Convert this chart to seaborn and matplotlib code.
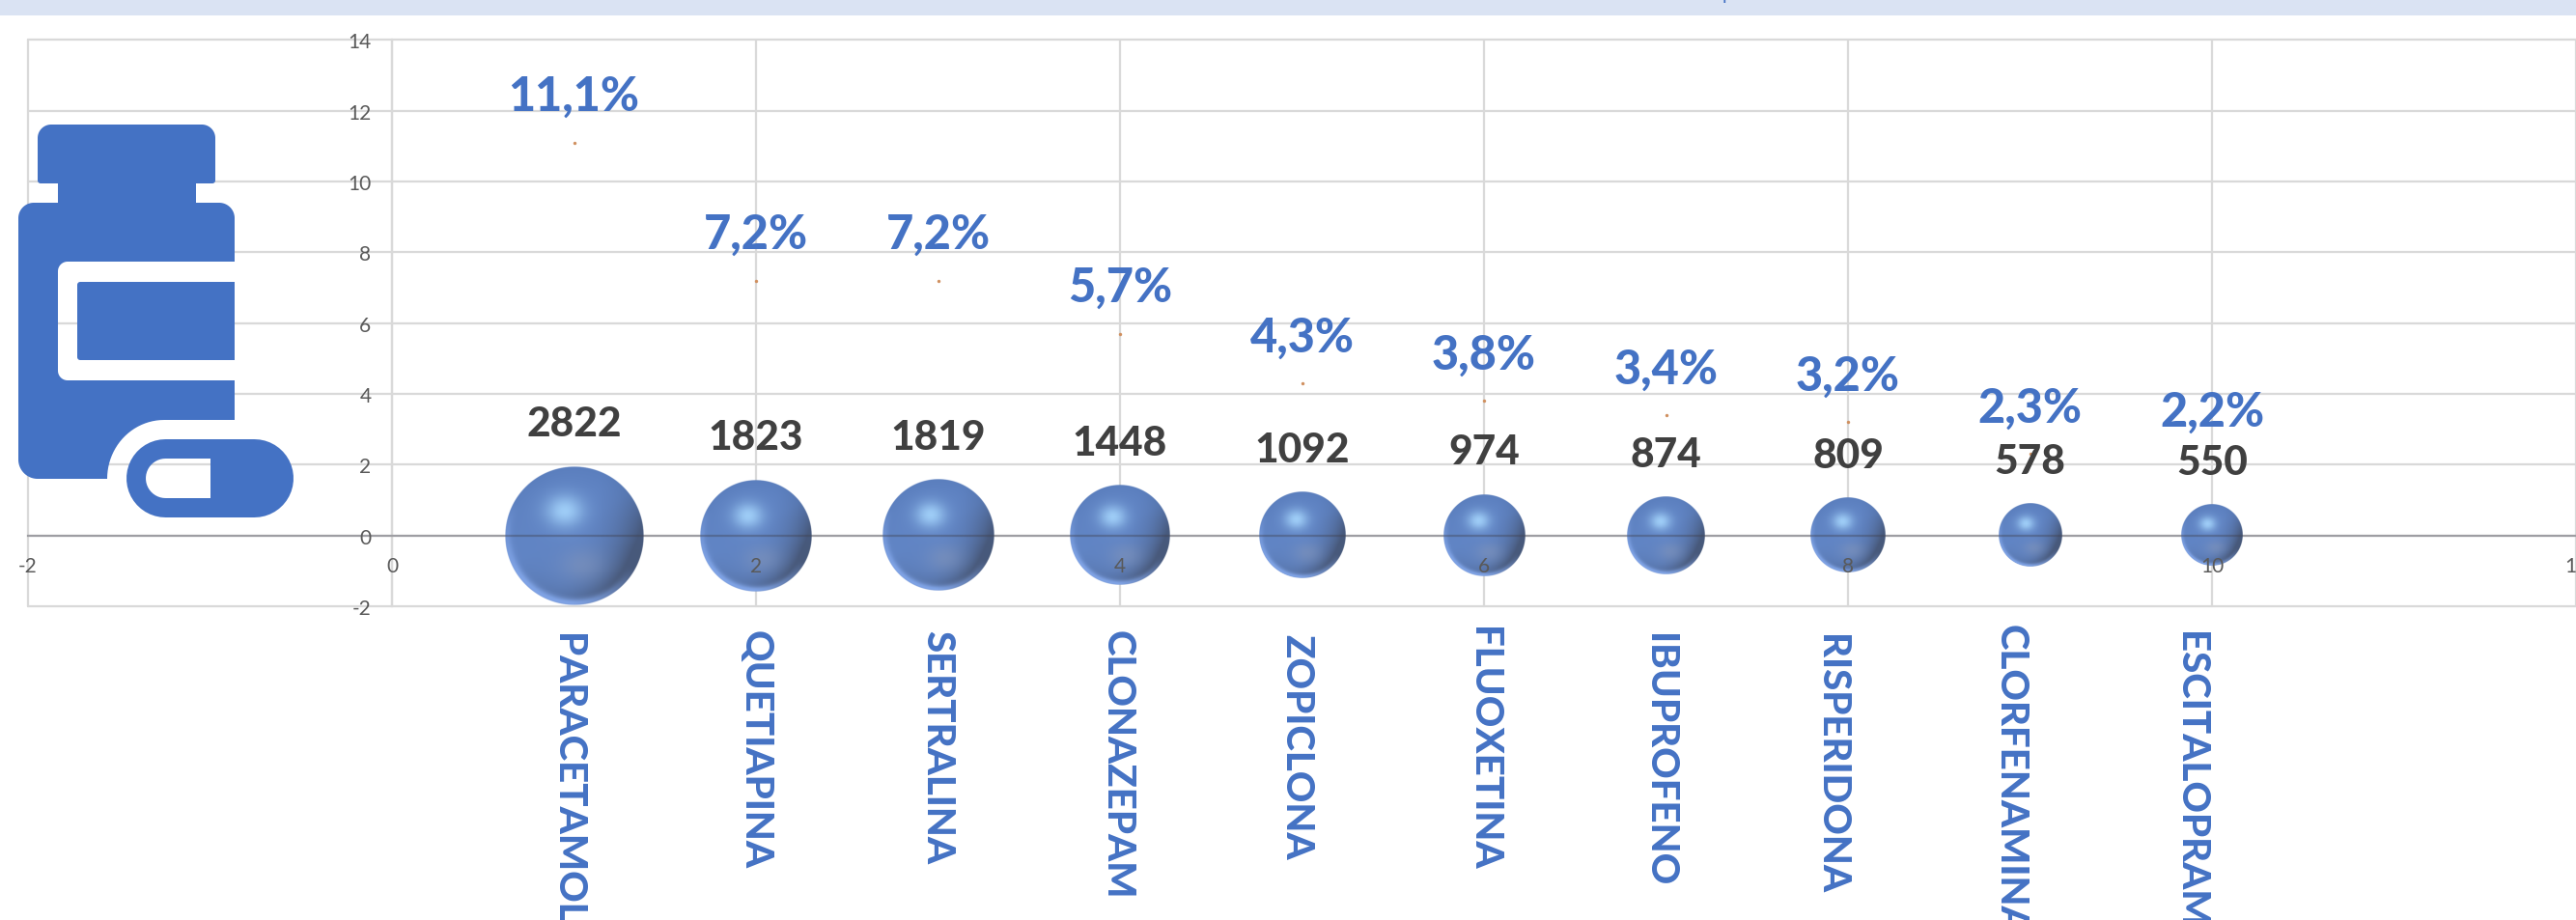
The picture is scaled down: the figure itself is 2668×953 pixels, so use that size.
import numpy as np
import pandas as pd
import matplotlib
matplotlib.use("Agg")
import matplotlib.pyplot as plt
import seaborn as sns
from matplotlib.path import Path
from matplotlib.patches import PathPatch, Rectangle
from matplotlib.transforms import Affine2D

# ---- data ----
drugs = ["PARACETAMOL", "QUETIAPINA", "SERTRALINA", "CLONAZEPAM", "ZOPICLONA",
         "FLUOXETINA", "IBUPROFENO", "RISPERIDONA", "CLORFENAMINA", "ESCITALOPRAM"]
rank = [1, 2, 3, 4, 5, 6, 7, 8, 9, 10]
counts = [2822, 1823, 1819, 1448, 1092, 974, 874, 809, 578, 550]
percent = [11.1, 7.2, 7.2, 5.7, 4.3, 3.8, 3.4, 3.2, 2.3, 2.2]
x_ticks = [-2, 0, 2, 4, 6, 8, 10, 12]
y_ticks = [-2, 0, 2, 4, 6, 8, 10, 12, 14]

# ---- layout (pixels of the 2668x954 canvas) ----
W, H = 2668, 954
PX_L, PX_R, PX_TOP, PX_BOT = 29, 2668, 42.4, 629
MAX_R = 72
name_nudge_x = [-7, -1, -1, -3, -6, -1, -7, -17, -20, -22]
name_top = [656, 653, 653, 653, 657, 649, 656, 657, 647, 654]
BLUE = "#4472C4"
DARK = "#404040"
GRID = "#D9D9D9"
TICK = "#595959"
FONT = "Lato"

sns.set_theme(style="white")
plt.rcParams["font.family"] = [FONT, "DejaVu Sans"]

df = pd.DataFrame({"drug": drugs, "rank": rank, "count": counts, "percent": percent})
df["zero"] = 0.0
df["size"] = df["count"]

fig = plt.figure(figsize=(W / 100, H / 100), dpi=100, facecolor="white")
ax = fig.add_axes([PX_L / W, (H - PX_BOT) / H, (PX_R - PX_L) / W, (PX_BOT - PX_TOP) / H])
ax.set_facecolor("none")
ax.set_axisbelow(False)

# grid
for v in y_ticks:
    ax.axhline(v, color=GRID, lw=1.6, zorder=0.5, clip_on=False)
for v in x_ticks:
    ax.axvline(v, color=GRID, lw=1.6, zorder=0.5, clip_on=False)

# bubbles: base disc through seaborn, shaded sphere on top
def rad_px(c):
    return MAX_R * np.sqrt(c / max(counts))

s_low, s_high = (2 * rad_px(min(counts)) * 0.72 * 0.97) ** 2, (2 * rad_px(max(counts)) * 0.72 * 0.97) ** 2
sns.scatterplot(data=df, x="rank", y="zero", size="size", sizes=(s_low, s_high),
                color="#6183C2", linewidth=0, legend=False, ax=ax, zorder=1.8)

def sphere(n=400):
    t = np.linspace(-1, 1, n)
    u, v = np.meshgrid(t, -t)
    r = np.sqrt(u ** 2 + v ** 2)
    base = np.array([0.38, 0.52, 0.77])
    dark = np.array([0.27, 0.33, 0.45])
    hi = np.array([0.66, 0.85, 1.0])
    glow = np.array([0.52, 0.59, 0.73])
    rim = np.array([0.50, 0.64, 0.90])
    img = np.ones((n, n, 3)) * base
    # darkening to the right and the lower side
    d1 = np.clip((u * 0.95 - v * 0.35 + 0.0), 0, 1) ** 1.9
    d2 = np.clip(r, 0, 1) ** 3 * np.clip(0.45 * u - 0.75 * v + 0.10, 0, 1)
    d = np.clip(d1 * 0.80 + d2 * 0.70, 0, 0.90)[..., None]
    img = img * (1 - d) + dark * d
    # upper edge slightly deeper
    e = (np.clip(r, 0, 1) ** 4 * np.clip(v + 0.2, 0, 1) * 0.30)[..., None]
    img = img * (1 - e) + np.array([0.30, 0.44, 0.68]) * e
    # soft lower glow
    g = (0.50 * np.exp(-(((u - 0.12) / 0.33) ** 2 + ((v + 0.42) / 0.24) ** 2)))[..., None]
    img = img * (1 - g) + glow * g
    # main highlight
    h = (0.85 * np.exp(-(((u + 0.14) / 0.27) ** 2 + ((v - 0.36) / 0.23) ** 2)))[..., None]
    img = img * (1 - h) + hi * h
    # bright rim at the bottom left
    rr = np.exp(-((r - 0.97) / 0.07) ** 2) * np.clip(-v * 1.0 - u * 0.55, 0, 1)
    rr = np.clip(rr * 1.0, 0, 1)[..., None]
    img = img * (1 - rr) + rim * rr
    alpha = np.clip((1 - r) * n / 2.5, 0, 1)
    return np.dstack([img, alpha])

sph = sphere()
ux = (PX_R - PX_L) / 14.0
uy = (PX_BOT - PX_TOP) / 16.0
for xv, c in zip(rank, counts):
    rp = rad_px(c)
    ax.imshow(sph, extent=(xv - rp / ux, xv + rp / ux, -rp / uy, rp / uy),
              aspect="auto", zorder=2, interpolation="antialiased")

# tiny percentage points
sns.scatterplot(data=df, x="rank", y="percent", color="#D0905F", s=6, linewidth=0,
                legend=False, ax=ax, zorder=3)

ax.set_xlim(-2, 12)
ax.set_ylim(-2, 14)
ax.set_xticks(x_ticks)
ax.set_yticks(y_ticks)
ax.set_xticklabels([str(v) for v in x_ticks])
ax.set_yticklabels([str(v) for v in y_ticks])
ax.set_xlabel("")
ax.set_ylabel("")
ax.tick_params(axis="x", length=0, pad=15.5, labelsize=15, labelcolor=TICK)
ax.tick_params(axis="y", length=0, pad=15.5, labelsize=15, labelcolor=TICK)

for k in ("top", "right"):
    ax.spines[k].set_visible(False)
ax.spines["left"].set_position(("data", 0))
ax.spines["bottom"].set_position(("data", 0))
ax.spines["left"].set_color(GRID)
ax.spines["left"].set_linewidth(1.6)
ax.spines["bottom"].set_color((0.25, 0.25, 0.3, 0.38))
ax.spines["bottom"].set_linewidth(1.6)

# labels
for xv, p, c, name, nx, top in zip(rank, percent, counts, drugs, name_nudge_x, name_top):
    ax.annotate(f"{p:.1f}%".replace(".", ","), (xv, p), xytext=(0, 33.5 * 0.72),
                textcoords="offset points", ha="center", va="baseline",
                color=BLUE, fontsize=35, fontweight="black", zorder=6, annotation_clip=False)
    ax.annotate(str(c), (xv, 0), xytext=(0, (rad_px(c) + 32) * 0.72),
                textcoords="offset points", ha="center", va="baseline",
                color=DARK, fontsize=30.5, fontweight="black", zorder=6, annotation_clip=False)
    ax.annotate(name, (xv, -2), xytext=(nx * 0.72, -(top - PX_BOT) * 0.72),
                textcoords="offset points", ha="center", va="top", rotation=-90,
                color=BLUE, fontsize=29, fontweight="black", zorder=6, annotation_clip=False)

# header band
fig.add_artist(Rectangle((0, 1 - 17 / H), 1, 17 / H, transform=fig.transFigure,
                         facecolor="#DAE3F3", edgecolor="none", zorder=0))
fig.text(1784 / W, 1.0, "p", color=BLUE, fontsize=14, ha="left", va="baseline", zorder=1)

# pictogram: bottle and capsule (canvas pixels, y downwards)
def arc(cx, cy, r, a0, a1, n=24, ry=None):
    a = np.radians(np.linspace(a0, a1, n))
    ry = r if ry is None else ry
    return np.column_stack([cx + r * np.cos(a), cy + ry * np.sin(a)])

outline = np.vstack([
    arc(53, 144, 14, 180, 270),
    arc(209, 144, 14, 270, 360),
    arc(220, 188, 3, 0, 90, 6),
    [[203, 191], [203, 211]],
    arc(227, 227, 16, 270, 360),
    [[243, 272]],
    arc(70, 282, 10, 270, 180),
    arc(70, 385, 10, 180, 90),
    [[243, 395], [243, 436]],
    arc(170, 497, 59, 270, 180, ry=61),
    arc(39, 477, 20, 90, 180),
    arc(35, 227, 16, 180, 270),
    [[60, 211], [60, 191]],
    arc(42, 188, 3, 90, 180, 6),
])
block = np.vstack([arc(83, 296, 3, 270, 180, 6), arc(83, 371, 3, 180, 90, 6), [[243, 374], [243, 293]]])
pill = np.vstack([arc(171.5, 496.5, 40.5, 90, 270), arc(263.5, 496.5, 40.5, 270, 450)])
hole = np.vstack([[[218, 476], [218, 517]], arc(171.5, 496.5, 20.5, 90, 270)])

def closed(p):
    p = np.asarray(p, float)
    return Path(np.vstack([p, p[0]]), closed=True)

def signed_area(p):
    return 0.5 * np.sum(p[:, 0] * np.roll(p[:, 1], -1) - np.roll(p[:, 0], -1) * p[:, 1])

if signed_area(pill) * signed_area(hole) > 0:
    hole = hole[::-1]

to_disp = Affine2D().scale(1, -1).translate(0, H)
for shape in (Path.make_compound_path(closed(outline)), closed(block),
              Path.make_compound_path(closed(pill), closed(hole))):
    patch = PathPatch(shape, facecolor=BLUE, edgecolor="none", transform=to_disp, zorder=4)
    patch.set_clip_on(False)
    fig.add_artist(patch)
    patch.set_transform(to_disp)

fig.savefig("out.png", dpi=100, facecolor="white")
